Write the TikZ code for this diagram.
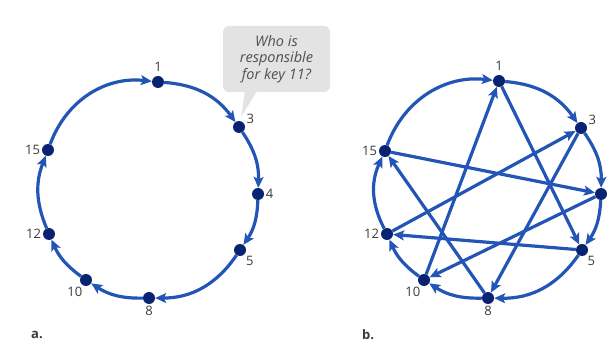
\documentclass[tikz,border=0pt]{standalone}
\usepackage{fontspec}
\setmainfont{Open Sans}
\usetikzlibrary{arrows.meta,positioning,backgrounds}
\definecolor{ringblue}{HTML}{2255B5}
\definecolor{peernavy}{HTML}{0A2272}
\definecolor{numgray}{HTML}{3A3A3A}
\definecolor{bubblegray}{HTML}{E3E3E3}
\definecolor{asktext}{HTML}{505050}

\begin{document}
\begin{tikzpicture}[x=1pt, y=1pt,
    peer/.style={circle, fill=peernavy, inner sep=0pt, minimum size=12pt},
    arr/.style={-{Stealth[length=11pt, width=10pt, inset=2.5pt]}, line width=3.2pt, ringblue},
    num/.style={font=\fontsize{13}{15}\selectfont, text=numgray, inner sep=1.5pt},
    part/.style={font=\fontsize{13}{15}\selectfont\bfseries, text=numgray},
    bubble/.style={fill=bubblegray, rounded corners=6pt, minimum width=107pt,
                   minimum height=66pt, align=center, text=asktext,
                   font=\fontsize{14.5}{16.5}\selectfont\itshape}
  ]
    \useasboundingbox (0,0) rectangle (608,343);

    % a. ring, successor pointers only
    \node[peer, label={[num, label distance=3pt]above:1}] (a1) at (158,261) {};
    \node[peer, label={[num]15:3}] (a3) at (239,216) {};
    \node[peer, label={[num]right:4}] (a4) at (258,149) {};
    \node[peer, label={[num]-45:5}] (a5) at (240,93) {};
    \node[peer, label={[num]below:8}] (a8) at (149,45) {};
    \node[peer, label={[num]-110:10}] (a10) at (86,63) {};
    \node[peer, label={[num]left:12}] (a12) at (49,109) {};
    \node[peer, label={[num]left:15}] (a15) at (48,193) {};
    \node[part] (parta) at (37,8) {a.};

    % question bubble
    \node[bubble] (ask) at (276.5,284) {Who is\\responsible\\for key 11?};
    \coordinate (tip) at (241,226);
    \fill[bubblegray] ([xshift=-31.5pt, yshift=1pt]ask.south) -- (tip)
        -- ([xshift=-19.5pt, yshift=1pt]ask.south) -- cycle;

    % b. ring with finger shortcuts
    \node[peer, label={[num, label distance=3pt]above:1}] (b1) at (499,262) {};
    \node[peer, label={[num]15:3}] (b3) at (581,215) {};
    \node[peer] (b4) at (601,149) {};
    \node[peer, label={[num]-50:5}] (b5) at (582,93) {};
    \node[peer, label={[num]below:8}] (b8) at (488,45) {};
    \node[peer, label={[num]-110:10}] (b10) at (424,63) {};
    \node[peer, label={[num]left:12}] (b12) at (387,109) {};
    \node[peer, label={[num]left:15}] (b15) at (385,192) {};
    \node[part] (partb) at (368,8) {b.};

    \begin{scope}[on background layer]
      % successors
      \draw[arr] (a1) to[bend left=25] (a3);
      \draw[arr] (a3) to[bend left=18] (a4);
      \draw[arr] (a4) to[bend left=16] (a5);
      \draw[arr] (a5) to[bend left=28] (a8);
      \draw[arr] (a8) to[bend left=17] (a10);
      \draw[arr] (a10) to[bend left=15] (a12);
      \draw[arr] (a12) to[bend left=22] (a15);
      \draw[arr] (a15) to[bend left=38] (a1);

      \draw[arr] (b1) to[bend left=25] (b3);
      \draw[arr] (b3) to[bend left=18] (b4);
      \draw[arr] (b4) to[bend left=16] (b5);
      \draw[arr] (b5) to[bend left=28] (b8);
      \draw[arr] (b8) to[bend left=17] (b10);
      \draw[arr] (b10) to[bend left=15] (b12);
      \draw[arr] (b12) to[bend left=26] (b15);
      \draw[arr] (b15) to[bend left=38] (b1);

      % shortcuts
      \draw[arr] (b1) -- (b5);
      \draw[arr] (b10) -- (b1);
      \draw[arr] (b3) -- (b8);
      \draw[arr] (b12) -- (b3);
      \draw[arr] (b15) -- (b4);
      \draw[arr] (b4) -- (b10);
      \draw[arr] (b5) -- (b12);
      \draw[arr] (b8) -- (b15);
    \end{scope}
  \end{tikzpicture}
\end{document}
